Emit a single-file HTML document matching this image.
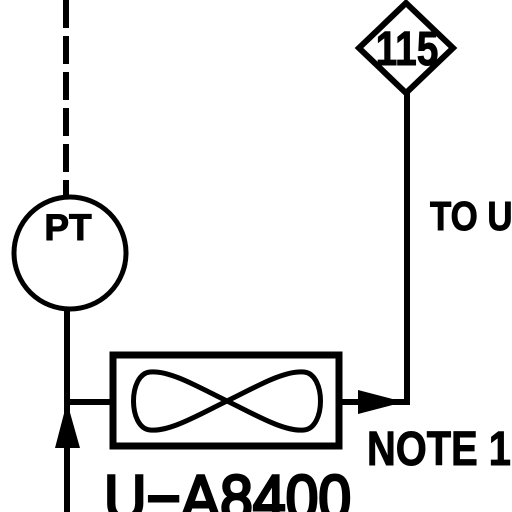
<!DOCTYPE html>
<html><head><meta charset="utf-8"><style>
html,body{margin:0;padding:0;background:#fff;width:512px;height:512px;overflow:hidden}
text{font-family:"Liberation Sans",sans-serif;font-weight:bold;fill:#000;stroke:#000;stroke-width:1}
</style></head><body>
<svg width="512" height="512" viewBox="0 0 512 512">
<line x1="66" y1="0" x2="66" y2="197" stroke="#000" stroke-width="6" stroke-dasharray="28,8"/>
<circle cx="70" cy="253" r="56" fill="none" stroke="#000" stroke-width="5"/>
<text x="68" y="240" font-size="37" text-anchor="middle">PT</text>
<line x1="67" y1="309" x2="67" y2="512" stroke="#000" stroke-width="6"/>
<line x1="67" y1="402" x2="112" y2="402" stroke="#000" stroke-width="6"/>
<polygon points="67,402 55,448 80,448" fill="#000"/>
<rect x="113" y="355" width="226" height="91" fill="none" stroke="#000" stroke-width="7"/>
<path d="M227,401 C200,388 170,370 150,372 C128,374 128,428 150,430 C170,432 200,414 227,401 C254,388 284,370 304,372 C326,374 326,428 304,430 C284,432 254,414 227,401 Z" fill="none" stroke="#000" stroke-width="5"/>
<line x1="339" y1="402" x2="410" y2="402" stroke="#000" stroke-width="6"/>
<polygon points="404,402 358,390 358,414" fill="#000"/>
<line x1="407" y1="90" x2="407" y2="405" stroke="#000" stroke-width="6"/>
<polygon points="406,3 453,48 406,93 359,48" fill="#fff" stroke="#000" stroke-width="6"/>
<text x="0" y="0" font-size="48" transform="translate(407,65) scale(0.81,1)" text-anchor="middle">115</text>
<text x="0" y="0" font-size="41" transform="translate(430,230) scale(0.85,1)">TO U</text>
<text x="0" y="0" font-size="48" transform="translate(367,465) scale(0.83,1)">NOTE 1</text>
<text x="0" y="0" font-size="64" transform="translate(104,520) scale(0.92,1)" style="font-weight:normal;stroke-width:3">U−A8400</text>
</svg>
</body></html>
